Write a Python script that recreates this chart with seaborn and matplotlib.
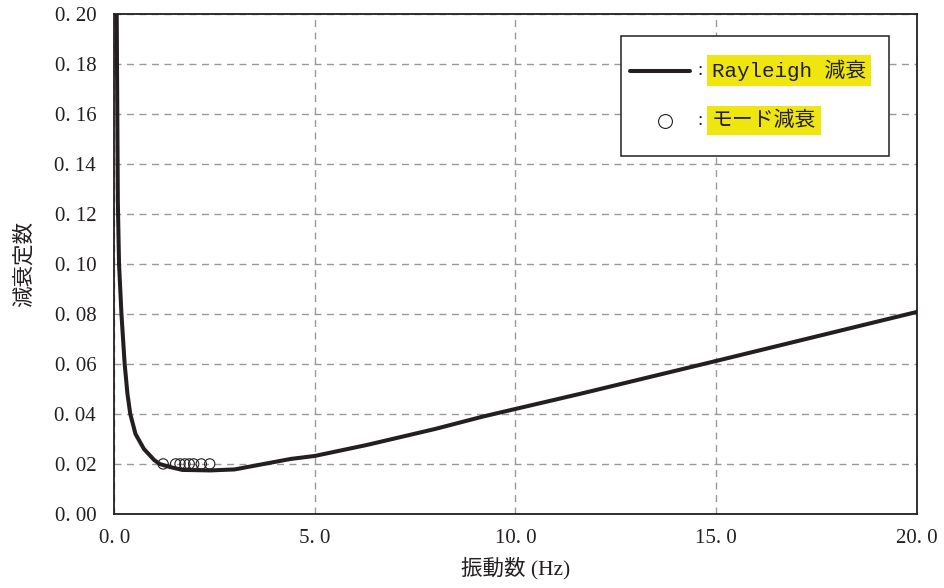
import pandas as pd
import matplotlib.pyplot as plt
import seaborn as sns
from matplotlib.patches import Rectangle

# Rayleigh damping curve
freq_hz = [0.06, 0.09, 0.12, 0.18, 0.26, 0.33, 0.40, 0.53, 0.74, 1.00,
           1.13, 1.38, 1.70, 2.40, 3.00, 4.40, 5.00, 6.30, 8.00, 9.20,
           10.0, 11.6, 15.0, 20.0]
rayleigh_h = [0.205, 0.125, 0.100, 0.080, 0.060, 0.048, 0.040, 0.032, 0.026, 0.0215,
              0.0200, 0.0188, 0.0176, 0.0174, 0.0178, 0.0220, 0.0232, 0.0276, 0.0340, 0.0390,
              0.0420, 0.0480, 0.0612, 0.0808]

# modal damping points
mode_freq = [1.22, 1.53, 1.64, 1.76, 1.87, 1.98, 2.17, 2.38]
mode_h = [0.02, 0.02, 0.02, 0.02, 0.02, 0.02, 0.02, 0.02]

x_ticks = [0, 5, 10, 15, 20]
x_labels = ["0. 0", "5. 0", "10. 0", "15. 0", "20. 0"]
y_ticks = [0.00, 0.02, 0.04, 0.06, 0.08, 0.10, 0.12, 0.14, 0.16, 0.18, 0.20]
y_labels = ["0. %02d" % round(v * 100) for v in y_ticks]

curve = pd.DataFrame({"f": freq_hz, "h": rayleigh_h})
modes = pd.DataFrame({"f": mode_freq, "h": mode_h})

sns.set_theme(style="white")
plt.rcParams["font.family"] = ["Liberation Serif", "Noto Sans CJK JP"]
ink = "#231f20"

fig = plt.figure(figsize=(9.44, 5.88), dpi=100)
ax = fig.add_axes([0.121, 0.126, 0.850, 0.850])

sns.lineplot(data=curve, x="f", y="h", color=ink, linewidth=2.9,
             ax=ax, zorder=3, sort=True)
sns.scatterplot(data=modes, x="f", y="h", marker="o", s=55,
                facecolor="none", edgecolor=ink, linewidth=0.8,
                ax=ax, zorder=4)

ax.set_xlim(0, 20)
ax.set_ylim(0, 0.20)
ax.set_xticks(x_ticks)
ax.set_xticklabels(x_labels)
ax.set_yticks(y_ticks)
ax.set_yticklabels(y_labels)
ax.tick_params(axis="both", labelsize=15, colors=ink, length=3,
               direction="in", width=0.8)
ax.tick_params(axis="x", pad=11)
ax.tick_params(axis="y", pad=13)

ax.grid(True, color="#999999", linestyle=(0, (5, 4)), linewidth=1)
for s in ax.spines.values():
    s.set_color(ink)
    s.set_linewidth(1.3)

ax.set_xlabel("振動数 (Hz)", fontsize=15.5, color=ink, labelpad=6)
ax.set_ylabel("減衰定数", fontsize=15.5, color=ink, labelpad=14)

# legend box drawn as in the original
ax.add_patch(Rectangle((0.631, 0.717), 0.334, 0.240, transform=ax.transAxes,
                       facecolor="white", edgecolor=ink, linewidth=1.1,
                       zorder=5))
ax.plot([0.643, 0.718], [0.887, 0.887], transform=ax.transAxes,
        color=ink, linewidth=2.9, zorder=6)
ax.plot([0.686], [0.787], transform=ax.transAxes, marker="o", markersize=10,
        markerfacecolor="none", markeredgecolor=ink,
        markeredgewidth=0.8, zorder=6)
hl = dict(boxstyle="square,pad=0.22", facecolor="#efe60f", edgecolor="none")
for yy, txt in [(0.887, "Rayleigh 減衰"), (0.787, "モード減衰")]:
    ax.text(0.730, yy, ":", transform=ax.transAxes, ha="center", va="center",
            fontsize=14, color=ink, zorder=6)
    ax.text(0.745, yy, txt, transform=ax.transAxes, ha="left", va="center",
            fontsize=15, color=ink, bbox=hl, zorder=6,
            family=["Liberation Mono", "Noto Sans CJK JP"])

fig.savefig("out.png", dpi=100)
